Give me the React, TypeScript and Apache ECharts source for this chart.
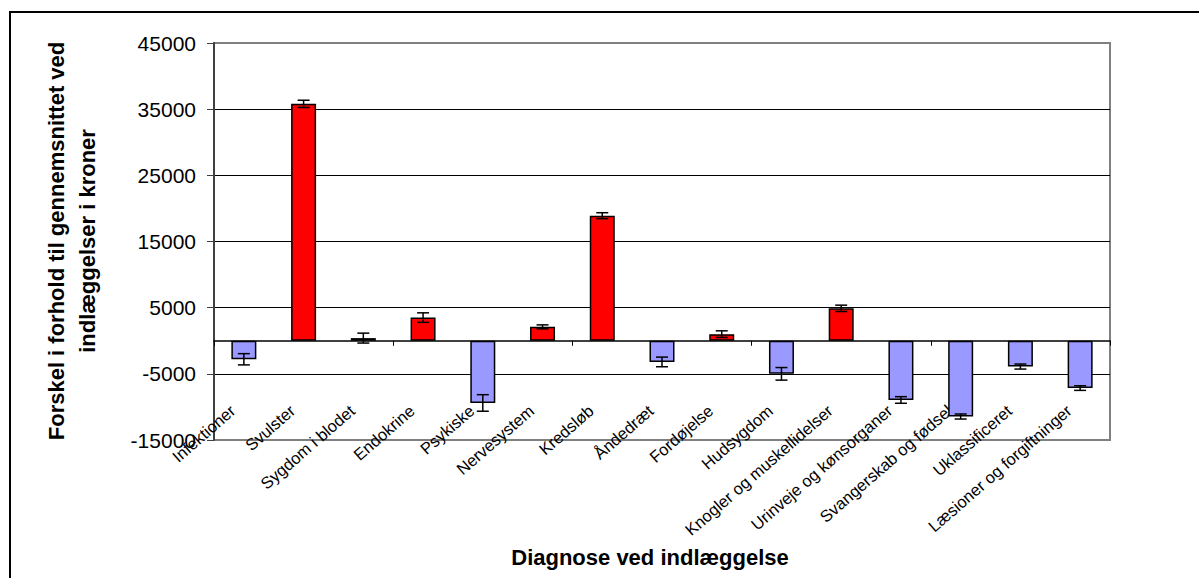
import React, { useEffect, useRef } from "react";
import * as echarts from "echarts";

const categories = [
  "Infektioner",
  "Svulster",
  "Sygdom i blodet",
  "Endokrine",
  "Psykiske",
  "Nervesystem",
  "Kredsløb",
  "Åndedræt",
  "Fordøjelse",
  "Hudsygdom",
  "Knogler og muskellidelser",
  "Urinveje og kønsorganer",
  "Svangerskab og fødsel",
  "Uklassificeret",
  "Læsioner og forgiftninger",
];

const values = [-2800, 35800, 400, 3500, -9400, 2100, 18900, -3200, 1000, -5000, 4900, -8950, -11450, -3900, -7150];
const errors = [850, 550, 750, 720, 1250, 300, 450, 730, 500, 950, 480, 500, 380, 380, 350];

const yTickLabels = ["-15000", "-5000", "5000", "15000", "25000", "35000", "45000"];

const yTitle = "Forskel i forhold til gennemsnittet ved\nindlæggelser i kroner";
const xTitle = "Diagnose ved indlæggelse";

const FONT = '"Liberation Sans", Arial, sans-serif';
const POS = "#FF0000";
const NEG = "#9999FF";

export default function App() {
  const ref = useRef<HTMLDivElement>(null);
  useEffect(() => {
    if (!ref.current) return;
    const chart = echarts.init(ref.current, undefined, { renderer: "svg" });
    const errData = values.map((v, i) => [i, v - errors[i], v + errors[i]]);
    chart.setOption({
      animation: false,
      backgroundColor: "#fff",
      textStyle: { fontFamily: FONT },
      grid: {
        left: 214,
        right: 89,
        top: 43,
        bottom: 138,
        show: true,
        borderColor: "#808080",
        borderWidth: 2,
        backgroundColor: "transparent",
      },
      xAxis: [
        {
          type: "category",
          data: categories,
          position: "bottom",
          axisLine: { onZero: true, onZeroAxisIndex: 0, lineStyle: { color: "#000", width: 1.5 } },
          axisTick: { show: true, length: 5, lineStyle: { color: "#000" } },
          axisLabel: { show: false },
          splitLine: { show: false },
        },
        {
          type: "category",
          data: categories,
          position: "bottom",
          axisLine: { show: false, onZero: false },
          axisTick: { show: false },
          splitLine: { show: false },
          axisLabel: {
            show: true,
            interval: 0,
            rotate: 41,
            margin: -19,
            align: "right",
            verticalAlign: "bottom",
            lineHeight: 34,
            fontSize: 16.5,
            color: "#000",
            fontFamily: FONT,
          },
        },
      ],
      yAxis: [
        {
          type: "value",
          min: -15000,
          max: 45000,
          position: "left",
          axisLine: { show: true, lineStyle: { color: "#404040", width: 2 } },
          axisTick: { show: false },
          axisLabel: { show: false },
          splitLine: { show: false },
        },
        {
          type: "value",
          min: 0,
          max: 60000,
          interval: 10000,
          position: "left",
          axisLine: { show: false },
          axisTick: { show: true, length: 7, lineStyle: { color: "#404040" } },
          axisLabel: {
            margin: 18,
            fontSize: 21,
            color: "#000",
            fontFamily: FONT,
            formatter: (v: number) => yTickLabels[Math.round(v / 10000)] ?? "",
          },
          splitLine: {
            show: true,
            lineStyle: {
              color: ["transparent", "#000", "#000", "#000", "#000", "#000", "transparent"],
              width: 1,
            },
          },
        },
      ],
      series: [
        {
          type: "bar",
          xAxisIndex: 0,
          yAxisIndex: 0,
          data: values,
          barWidth: 25,
          itemStyle: {
            color: (p: any) => (p.value >= 0 ? POS : NEG),
            borderColor: "#000",
            borderWidth: 1.5,
          },
          z: 3,
        },
        {
          type: "custom",
          xAxisIndex: 0,
          yAxisIndex: 0,
          data: errData,
          z: 5,
          renderItem: (params: any, api: any) => {
            const x = api.value(0);
            const lo = api.coord([x, api.value(1)]);
            const hi = api.coord([x, api.value(2)]);
            const w = 6;
            const st = { stroke: "#000", lineWidth: 1.5 };
            return {
              type: "group",
              children: [
                { type: "line", shape: { x1: lo[0], y1: lo[1], x2: hi[0], y2: hi[1] }, style: st },
                { type: "line", shape: { x1: lo[0] - w, y1: lo[1], x2: lo[0] + w, y2: lo[1] }, style: st },
                { type: "line", shape: { x1: hi[0] - w, y1: hi[1], x2: hi[0] + w, y2: hi[1] }, style: st },
              ],
            };
          },
        },
      ],
      graphic: [
        {
          type: "rect",
          shape: { x: 10, y: 12, width: 1300, height: 700 },
          style: { fill: "none", stroke: "#000", lineWidth: 2 },
          silent: true,
        },
        {
          type: "text",
          x: 72,
          y: 241,
          rotation: Math.PI / 2,
          style: {
            text: yTitle,
            font: `bold 22px ${FONT}`,
            fill: "#000",
            align: "center",
            verticalAlign: "middle",
            textAlign: "center",
            textVerticalAlign: "middle",
            lineHeight: 31,
          },
        },
        {
          type: "text",
          x: 650,
          y: 557,
          style: {
            text: xTitle,
            font: `bold 22px ${FONT}`,
            fill: "#000",
            align: "center",
            verticalAlign: "middle",
            textAlign: "center",
            textVerticalAlign: "middle",
          },
        },
      ],
    });
    return () => chart.dispose();
  }, []);
  return (
    <div
      ref={ref}
      style={{ position: "fixed", left: 0, top: 0, width: 1199, height: 578, background: "#fff" }}
    />
  );
}
